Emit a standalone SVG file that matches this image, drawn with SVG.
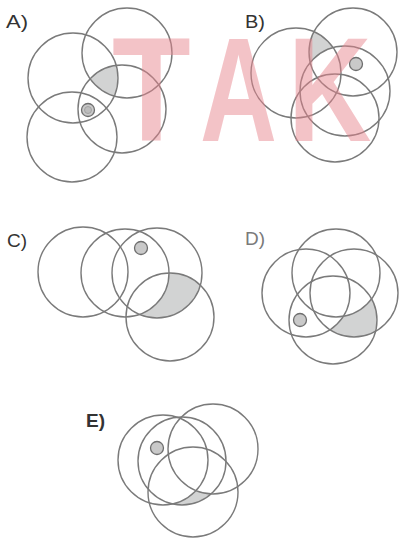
<svg xmlns="http://www.w3.org/2000/svg" width="399" height="540" viewBox="0 0 399 540">
<style>
.c{fill:none;stroke:#7a7a7a;stroke-width:1.4}
.s{fill:#d2d3d3;stroke:none}
.dot{fill:#c9c9c9;stroke:#6e6e6e;stroke-width:1.3}
.lb{font-family:"Liberation Sans",Arial,sans-serif;font-size:19px;fill:#333}
.wm{font-family:"Liberation Sans",Arial,sans-serif;font-weight:bold;font-size:148px;fill:#e8838c;opacity:0.48}
</style>
<defs>
<clipPath id="cAul"><circle cx="73" cy="78" r="45"/></clipPath>
<clipPath id="cAmr"><circle cx="122" cy="109" r="44"/></clipPath>
<clipPath id="cBtr"><circle cx="353" cy="52" r="44"/></clipPath>
<mask id="mB"><rect width="399" height="540" fill="#fff"/><circle cx="345" cy="91" r="45" fill="#000"/></mask>
<clipPath id="cC4"><circle cx="170" cy="317" r="44"/></clipPath>
<mask id="mC"><rect width="399" height="540" fill="#fff"/><circle cx="125" cy="273" r="44" fill="#000"/></mask>
<clipPath id="cDr"><circle cx="354" cy="293" r="44"/></clipPath>
<mask id="mD"><rect width="399" height="540" fill="#fff"/><circle cx="306" cy="293" r="44" fill="#000"/><circle cx="336" cy="273" r="44" fill="#000"/></mask>
<clipPath id="cEd"><circle cx="193" cy="492" r="45"/></clipPath>
<mask id="mE"><rect width="399" height="540" fill="#fff"/><circle cx="163" cy="460" r="45" fill="#000"/><circle cx="213" cy="449" r="45" fill="#000"/></mask>
</defs>
<rect width="399" height="540" fill="#fff"/>

<g id="panelA">
<g clip-path="url(#cAul)"><circle class="s" cx="127" cy="53" r="45" clip-path="url(#cAmr)"/></g>
<circle class="c" cx="73" cy="78" r="45"/>
<circle class="c" cx="127" cy="53" r="45"/>
<circle class="c" cx="122" cy="109" r="44"/>
<circle class="c" cx="72" cy="137" r="45"/>
<circle class="dot" cx="88" cy="110" r="6.5"/>
<circle cx="88" cy="110" r="3.5" fill="#bdbdbd" stroke="#999" stroke-width="0.8"/>
<text class="lb" x="6" y="28" textLength="22" lengthAdjust="spacingAndGlyphs">A)</text>
</g>

<g id="panelB">
<circle class="s" cx="296" cy="73" r="45" clip-path="url(#cBtr)" mask="url(#mB)"/>
<circle class="c" cx="296" cy="73" r="45"/>
<circle class="c" cx="353" cy="52" r="44"/>
<circle class="c" cx="345" cy="91" r="45"/>
<circle class="c" cx="335" cy="118" r="44"/>
<circle class="dot" cx="356" cy="64" r="6.5"/>
<text class="lb" x="245" y="28" textLength="20" lengthAdjust="spacingAndGlyphs">B)</text>
</g>

<g id="panelC">
<circle class="s" cx="157" cy="273" r="45" clip-path="url(#cC4)" mask="url(#mC)"/>
<circle class="c" cx="83" cy="272" r="45"/>
<circle class="c" cx="125" cy="273" r="44"/>
<circle class="c" cx="157" cy="273" r="45"/>
<circle class="c" cx="170" cy="317" r="44"/>
<circle class="dot" cx="141" cy="248" r="6.5"/>
<text class="lb" x="7" y="247" font-size="20">C)</text>
</g>

<g id="panelD">
<circle class="s" cx="333" cy="320" r="44" clip-path="url(#cDr)" mask="url(#mD)"/>
<circle class="c" cx="336" cy="273" r="44"/>
<circle class="c" cx="306" cy="293" r="44"/>
<circle class="c" cx="354" cy="293" r="44"/>
<circle class="c" cx="333" cy="320" r="44"/>
<circle class="dot" cx="300" cy="320" r="6.5"/>
<text class="lb" x="245" y="245" font-size="20" style="fill:#7a7a7a">D)</text>
</g>

<g id="panelE">
<circle class="s" cx="182" cy="461" r="44" clip-path="url(#cEd)" mask="url(#mE)"/>
<circle class="c" cx="163" cy="460" r="45"/>
<circle class="c" cx="182" cy="461" r="44"/>
<circle class="c" cx="213" cy="449" r="45"/>
<circle class="c" cx="193" cy="492" r="45"/>
<circle class="dot" cx="157" cy="448" r="6.5"/>
<text class="lb" x="86" y="427" font-size="20" font-weight="bold" style="fill:#333">E)</text>
</g>

<g id="connectors"/>

<g id="watermark">
<text class="wm" transform="translate(112,141) scale(0.87,1)">T</text>
<text class="wm" transform="translate(200,141) scale(0.72,1)">A</text>
<text class="wm" transform="translate(288,141) scale(0.78,1)">K</text>
</g>
</svg>
